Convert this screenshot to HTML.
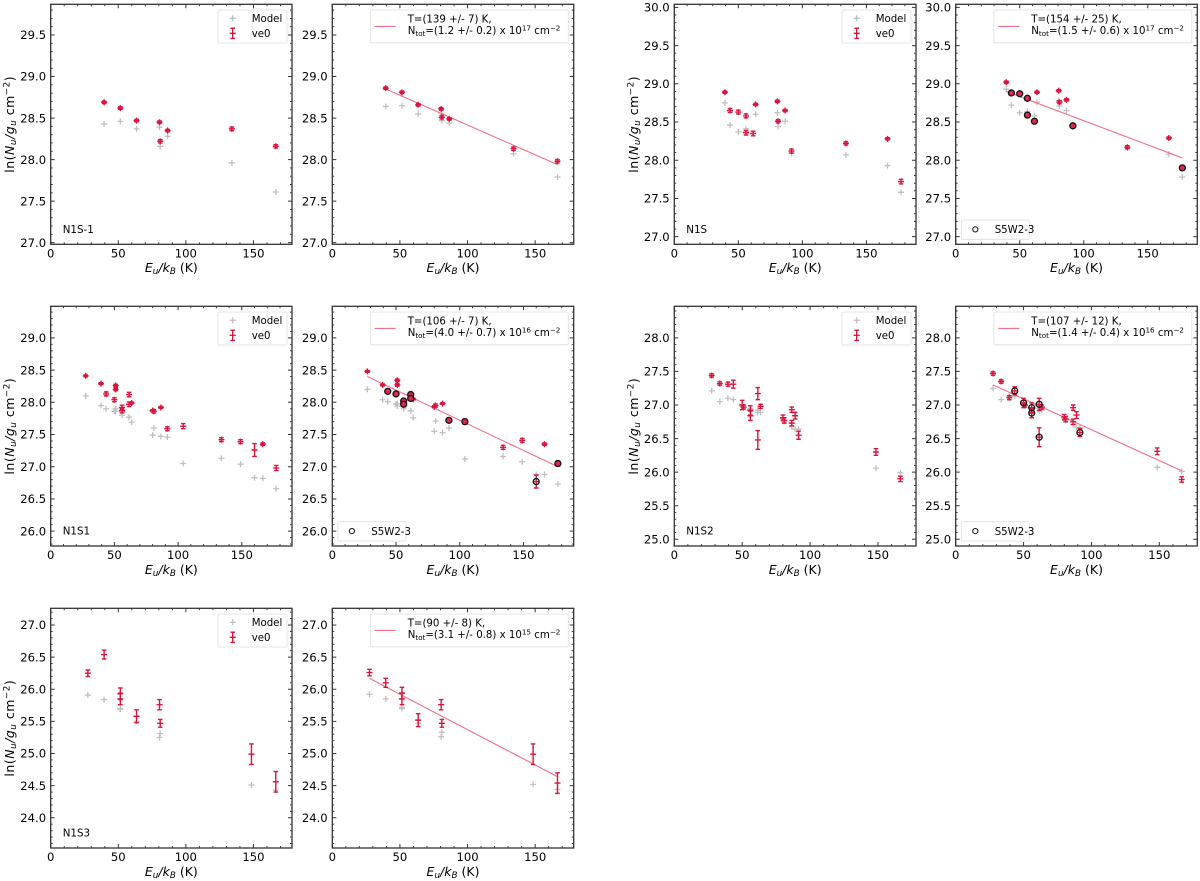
<!DOCTYPE html>
<html lang="en">
<head>
<meta charset="utf-8">
<title>Rotation diagrams</title>
<style>
html,body{margin:0;padding:0;background:#fff;width:1200px;height:881px;overflow:hidden}
svg{display:block;font-family:"DejaVu Sans","Liberation Sans",sans-serif;filter:blur(.3px)}
</style>
</head>
<body>
<svg id="figure" xmlns="http://www.w3.org/2000/svg" width="1200" height="881" viewBox="0 0 1200 881"></svg>
<script>
// ---------- data ----------
const xTicks = [0, 50, 100, 150];
const yTicksN1Sm1 = [27.0, 27.5, 28.0, 28.5, 29.0, 29.5];
const yTicksN1S = [27.0, 27.5, 28.0, 28.5, 29.0, 29.5, 30.0];
const yTicksN1S1 = [26.0, 26.5, 27.0, 27.5, 28.0, 28.5, 29.0];
const yTicksN1S2 = [25.0, 25.5, 26.0, 26.5, 27.0, 27.5, 28.0];
const yTicksN1S3 = [24.0, 24.5, 25.0, 25.5, 26.0, 26.5, 27.0];

const energyN1Sm1 = [39.5, 51.5, 63.5, 80.5, 81, 86.5, 134, 166.5];
const obsN1Sm1 = [28.69, 28.62, 28.47, 28.45, 28.22, 28.35, 28.37, 28.16];
const errN1Sm1 = [0.015, 0.015, 0.015, 0.015, 0.02, 0.015, 0.02, 0.02];
const modelN1Sm1 = [28.43, 28.46, 28.37, 28.39, 28.16, 28.28, 27.96, 27.61];
const obsFitN1Sm1 = [28.86, 28.81, 28.66, 28.61, 28.51, 28.49, 28.13, 27.98];
const modelFitN1Sm1 = [28.64, 28.65, 28.55, 28.56, 28.47, 28.44, 28.07, 27.79];
const lineXN1Sm1 = [39.5, 166.5];
const lineYN1Sm1 = [28.85, 27.94];

const energyN1S = [39.5, 43.5, 50, 56, 56, 61.5, 63.5, 80.5, 81, 86.5, 91.5, 134, 166.5, 177];
const obsN1S = [28.89, 28.65, 28.63, 28.58, 28.36, 28.35, 28.73, 28.77, 28.51, 28.65, 28.12, 28.22, 28.28, 27.72];
const errN1S = [0.015, 0.025, 0.025, 0.025, 0.03, 0.03, 0.015, 0.015, 0.02, 0.015, 0.025, 0.02, 0.015, 0.03];
const modelN1S = [28.75, 28.46, 28.37, 28.41, 28.37, 28.35, 28.60, 28.62, 28.44, 28.51, 28.09, 28.07, 27.93, 27.58];
const obsFitN1S = [29.02, 28.88, 28.87, 28.81, 28.59, 28.51, 28.89, 28.91, 28.76, 28.79, 28.45, 28.17, 28.29, 27.90];
const modelFitN1S = [28.93, 28.72, 28.62, 28.64, 28.60, 28.58, 28.76, 28.78, 28.71, 28.65, 28.44, 28.16, 28.08, 27.78];
const lineXN1S = [39.5, 177];
const lineYN1S = [28.90, 28.03];
const circledN1S = [1, 2, 3, 4, 5, 10, 13];

const energyN1S1 = [27.5, 39.5, 43.5, 50, 51, 51, 56, 56, 61.5, 61.5, 63.5, 80, 81, 86.5, 91.5, 104, 134, 149, 160, 166.5, 177];
const obsN1S1 = [28.41, 28.29, 28.13, 28.04, 28.26, 28.20, 27.92, 27.87, 28.12, 27.97, 27.99, 27.87, 27.86, 27.92, 27.59, 27.63, 27.42, 27.39, 27.26, 27.35, 26.98];
const errN1S1 = [0.015, 0.015, 0.03, 0.03, 0.02, 0.02, 0.035, 0.035, 0.035, 0.035, 0.015, 0.015, 0.025, 0.015, 0.03, 0.04, 0.03, 0.03, 0.10, 0.02, 0.04];
const modelN1S1 = [28.10, 27.95, 27.90, 27.86, 27.90, 27.86, 27.85, 27.80, 27.77, 27.77, 27.69, 27.49, 27.60, 27.47, 27.46, 27.05, 27.13, 27.04, 26.83, 26.82, 26.66];
const obsFitN1S1 = [28.48, 28.27, 28.17, 28.13, 28.34, 28.27, 28.02, 27.97, 28.12, 28.06, 28.05, 27.93, 27.95, 27.98, 27.72, 27.70, 27.30, 27.41, 26.77, 27.35, 27.05];
const modelFitN1S1 = [28.20, 28.04, 28.01, 27.97, 27.98, 27.94, 27.93, 27.90, 27.87, 27.87, 27.76, 27.55, 27.71, 27.53, 27.60, 27.12, 27.16, 27.08, 26.88, 26.88, 26.73];
const lineXN1S1 = [27.5, 177];
const lineYN1S1 = [28.40, 27.00];
const circledN1S1 = [2, 3, 6, 7, 8, 9, 14, 15, 18, 20];

const energyN1S2 = [27.5, 33.5, 39.5, 43.5, 50, 51, 56, 56, 61.5, 61.5, 63.5, 80, 81, 86.5, 86.5, 89, 91.5, 148.5, 166.5];
const obsN1S2 = [27.44, 27.32, 27.31, 27.31, 27.0, 26.97, 26.92, 26.84, 27.17, 26.48, 26.98, 26.81, 26.77, 26.93, 26.73, 26.84, 26.55, 26.30, 25.90];
const errN1S2 = [0.025, 0.025, 0.03, 0.06, 0.07, 0.03, 0.07, 0.07, 0.09, 0.14, 0.03, 0.04, 0.04, 0.04, 0.04, 0.05, 0.06, 0.05, 0.04];
const modelN1S2 = [27.21, 27.05, 27.10, 27.08, 26.98, 26.96, 26.95, 26.93, 26.92, 26.89, 26.89, 26.79, 26.75, 26.68, 26.68, 26.64, 26.64, 26.06, 25.99];
const obsFitN1S2 = [27.47, 27.35, 27.11, 27.21, 27.03, 27.0, 26.96, 26.88, 27.01, 26.52, 26.97, 26.82, 26.79, 26.96, 26.75, 26.85, 26.59, 26.31, 25.89];
const modelFitN1S2 = [27.25, 27.08, 27.13, 27.13, 27.01, 26.99, 26.96, 26.94, 26.95, 26.91, 26.92, 26.80, 26.77, 26.71, 26.71, 26.67, 26.66, 26.07, 26.01];
const lineXN1S2 = [27.5, 166.5];
const lineYN1S2 = [27.30, 26.02];
const circledN1S2 = [3, 4, 6, 7, 8, 9, 16];

const energyN1S3 = [27.5, 39.5, 51.5, 51.5, 63.5, 80.5, 81, 148.5, 166.5];
const obsN1S3 = [26.25, 26.54, 25.93, 25.85, 25.58, 25.76, 25.47, 24.99, 24.56];
const errN1S3 = [0.05, 0.07, 0.09, 0.09, 0.10, 0.08, 0.06, 0.16, 0.16];
const modelN1S3 = [25.91, 25.84, 25.70, 25.69, 25.50, 25.25, 25.31, 24.51, 24.43];
const obsFitN1S3 = [26.26, 26.10, 25.94, 25.85, 25.52, 25.76, 25.47, 24.99, 24.54];
const modelFitN1S3 = [25.92, 25.85, 25.72, 25.70, 25.47, 25.26, 25.33, 24.52, 24.44];
const lineXN1S3 = [27.5, 166.5];
const lineYN1S3 = [26.17, 24.64];

// ---------- drawing ----------
const NS = 'http://www.w3.org/2000/svg';
const CRIMSON = '#dc143c';
const GREY = '#c0c0c0';
const FIT = '#f2708a';
const SPINE = '#333333';
const root = document.getElementById('figure');

function svgEl(tag, attrs, parent) {
  const e = document.createElementNS(NS, tag);
  for (const k in attrs) e.setAttribute(k, attrs[k]);
  parent.appendChild(e);
  return e;
}
function span(parent, txt, attrs) {
  const s = svgEl('tspan', attrs || {}, parent);
  s.textContent = txt;
  return s;
}
function plus(parent, cx, cy, half, color, width) {
  const d = 'M' + (cx - half) + ' ' + cy + 'H' + (cx + half) + 'M' + cx + ' ' + (cy - half) + 'V' + (cy + half);
  return svgEl('path', {d: d, stroke: color, 'stroke-width': width, fill: 'none'}, parent);
}
function errorbar(parent, cx, y0, y1, yc) {
  const cap = 2.3;
  const d = 'M' + cx + ' ' + y0 + 'V' + y1 +
    'M' + (cx - cap) + ' ' + y0 + 'H' + (cx + cap) +
    'M' + (cx - cap) + ' ' + y1 + 'H' + (cx + cap) +
    'M' + (cx - 3) + ' ' + yc + 'H' + (cx + 3) +
    'M' + cx + ' ' + (yc - 3) + 'V' + (yc + 3);
  return svgEl('path', {d: d, stroke: CRIMSON, 'stroke-width': 1.4, fill: 'none'}, parent);
}

function drawPanel(c) {
  const W = c.right - c.left, H = c.bottom - c.top;
  const xs = v => c.left + v / c.xMax * W;
  const ys = v => c.bottom - (v - c.yMin) / (c.yMax - c.yMin) * H;

  const g = svgEl('g', {}, root);
  
  

  const bg = svgEl('rect', {x: c.left, y: c.top, width: W, height: H, fill: '#fff'}, g);
  
  

  // minor ticks
  let minor = '';
  for (let v = 0; v <= c.xMax; v += 10) {
    if (v % 50 === 0) continue;
    const x = xs(v);
    minor += 'M' + x + ' ' + c.bottom + 'v-2M' + x + ' ' + c.top + 'v2';
  }
  for (let i = Math.ceil(c.yMin * 10); i <= Math.floor(c.yMax * 10); i++) {
    if (i % 5 === 0) continue;
    const y = ys(i / 10);
    minor += 'M' + c.left + ' ' + y + 'h2M' + c.right + ' ' + y + 'h-2';
  }
  const minorPath = svgEl('path', {d: minor, stroke: SPINE, 'stroke-width': 0.9, fill: 'none'}, g);
  
  

  // x ticks
  xTicks.forEach(v => {
    const x = xs(v);
    const t = svgEl('path', {d: 'M' + x + ' ' + c.bottom + 'v-4M' + x + ' ' + c.top + 'v4', stroke: SPINE, 'stroke-width': 1, fill: 'none'}, g);
    
    
    const l = svgEl('text', {x: x, y: c.bottom + 13, 'text-anchor': 'middle', 'font-size': 11.6, fill: '#000'}, g);
    
    
    l.textContent = String(v);
  });

  // y ticks
  c.yTicks.forEach(v => {
    const y = ys(v);
    const t = svgEl('path', {d: 'M' + c.left + ' ' + y + 'h4M' + c.right + ' ' + y + 'h-4', stroke: SPINE, 'stroke-width': 1, fill: 'none'}, g);
    
    
    const l = svgEl('text', {x: c.left - 4.6, y: y + 4.2, 'text-anchor': 'end', 'font-size': 11.6, fill: '#000'}, g);
    
    
    l.textContent = v.toFixed(1);
  });

  // model points
  c.energy.forEach((e, i) => {
    const m = plus(g, xs(e), ys(c.model[i]), 3, GREY, 1.3);
    
    
  });

  // fit line
  if (c.lineX) {
    const fit = svgEl('line', {x1: xs(c.lineX[0]), y1: ys(c.lineY[0]), x2: xs(c.lineX[1]), y2: ys(c.lineY[1]), stroke: FIT, 'stroke-width': 1.1}, g);
    
    
  }

  // observed points
  c.energy.forEach((e, i) => {
    const p = errorbar(g, xs(e), ys(c.obs[i] + c.err[i]), ys(c.obs[i] - c.err[i]), ys(c.obs[i]));
    
    
  });

  // circled points: small error bars read as a filled dot inside the ring
  (c.circled || []).forEach(i => {
    const r = svgEl('circle', {cx: xs(c.energy[i]), cy: ys(c.obs[i]), r: 3, fill: c.err[i] < 0.05 ? '#e0284f' : 'none', stroke: '#111', 'stroke-width': 1.3}, g);
    
    
  });

  // frame
  const frame = svgEl('rect', {x: c.left, y: c.top, width: W, height: H, fill: 'none', stroke: SPINE, 'stroke-width': 1.3}, g);
  
  

  // x label
  const xl = svgEl('text', {x: (c.left + c.right) / 2, y: c.bottom + 27.8, 'text-anchor': 'middle', 'font-size': 12.5, fill: '#000'}, g);
  
  
  span(xl, 'E', {'font-style': 'italic'});
  span(xl, 'u', {'font-style': 'italic', 'font-size': 8.8, dy: 2});
  span(xl, '/k', {'font-style': 'italic', dy: -2});
  span(xl, 'B', {'font-style': 'italic', 'font-size': 8.8, dy: 2});
  span(xl, ' (K)', {dy: -2});

  // y label
  if (c.panelLabel) {
    const cy = (c.top + c.bottom) / 2;
    const lx = c.left - 36.5;
    const yl = svgEl('text', {x: lx, y: cy, transform: 'rotate(-90 ' + lx + ' ' + cy + ')', 'text-anchor': 'middle', 'font-size': 12.5, 'letter-spacing': 0.5, fill: '#000'}, g);
    
    
    span(yl, 'ln(');
    span(yl, 'N', {'font-style': 'italic'});
    span(yl, 'u', {'font-style': 'italic', 'font-size': 8.8, dy: 2});
    span(yl, '/g', {'font-style': 'italic', dy: -2});
    span(yl, 'u', {'font-style': 'italic', 'font-size': 8.8, dy: 2});
    span(yl, ' cm', {dy: -2});
    span(yl, '\u22122', {'font-size': 8.8, dy: -4.5});
    span(yl, ')', {dy: 4.5});

    const ann = svgEl('text', {x: c.left + 12, y: c.bottom - 11.3, 'font-size': 10.3, fill: '#000'}, g);
    
    
    ann.textContent = c.panelLabel;

    // legend: model / ve0
    const lg = svgEl('g', {}, g);
    
    
    const lLeft = c.right - 74, lTop = c.top + 5.7;
    const box = svgEl('rect', {x: lLeft, y: lTop, width: 69, height: 33, rx: 1.5, fill: '#fff', 'fill-opacity': 0.8, stroke: '#dedede', 'stroke-width': 0.8}, lg);
    
    
    const mk = plus(lg, lLeft + 14.7, lTop + 8.3, 3, GREY, 1.3);
    
    
    const mt = svgEl('text', {x: lLeft + 33.7, y: lTop + 12.2, 'font-size': 10.2, fill: '#000'}, lg);
    
    
    mt.textContent = 'Model';
    const ve = errorbar(lg, lLeft + 14.7, lTop + 18.2, lTop + 28.4, lTop + 23.3);
    
    
    const vt = svgEl('text', {x: lLeft + 33.7, y: lTop + 27.2, 'font-size': 10.2, fill: '#000'}, lg);
    
    
    vt.textContent = 've0';
  } else {
    // legend: fit result
    const lg = svgEl('g', {}, g);
    
    
    const lLeft = c.right - 203.4, lTop = c.top + 5.7;
    const box = svgEl('rect', {x: lLeft, y: lTop, width: 198, height: 32.8, rx: 1.5, fill: '#fff', 'fill-opacity': 0.8, stroke: '#dedede', 'stroke-width': 0.8}, lg);
    
    
    const ln = svgEl('line', {x1: lLeft + 4.4, x2: lLeft + 25.4, y1: lTop + 16.4, y2: lTop + 16.4, stroke: FIT, 'stroke-width': 1.1}, lg);
    
    
    const t1 = svgEl('text', {x: lLeft + 37.4, y: lTop + 12.7, 'font-size': 10.2, fill: '#000'}, lg);
    
    
    t1.textContent = c.tempLabel;
    const t2 = svgEl('text', {x: lLeft + 37.4, y: lTop + 24.2, 'font-size': 10.2, fill: '#000'}, lg);
    
    
    span(t2, 'N');
    span(t2, 'tot', {'font-size': 7.2, dy: 1.6});
    span(t2, '=' + c.densLabel + ' x 10', {dy: -1.6});
    span(t2, c.densExp, {'font-size': 7.2, dy: -3.8});
    span(t2, ' cm', {dy: 3.8});
    span(t2, '\u22122', {'font-size': 7.2, dy: -3.8});

    if (c.circled) {
      const lb = svgEl('g', {}, g);
      
      
      const bTop = c.bottom - 24.3, bLeft = c.left + 5.6;
      const b2 = svgEl('rect', {x: bLeft, y: bTop, width: 68, height: 19.3, rx: 1.5, fill: '#fff', 'fill-opacity': 0.8, stroke: '#dedede', 'stroke-width': 0.8}, lb);
      
      
      const mk = svgEl('circle', {cx: bLeft + 14, cy: bTop + 9.4, r: 2.6, fill: 'none', stroke: '#111', 'stroke-width': 1}, lb);
      
      
      const tx = svgEl('text', {x: bLeft + 33.4, y: bTop + 13.2, 'font-size': 10.2, fill: '#000'}, lb);
      
      
      tx.textContent = 'S5W2-3';
    }
  }
}

drawPanel({name: 'panel-n1s-1-data', left: 50.7, right: 292, top: 4.3, bottom: 244.3, xMax: 178.5, yMin: 26.98, yMax: 29.87, yTicks: yTicksN1Sm1,
  energy: energyN1Sm1, obs: obsN1Sm1, err: errN1Sm1, model: modelN1Sm1, panelLabel: 'N1S-1'});
drawPanel({name: 'panel-n1s-1-fit', left: 332.3, right: 573.7, top: 4.3, bottom: 244.3, xMax: 178.5, yMin: 26.98, yMax: 29.87, yTicks: yTicksN1Sm1,
  energy: energyN1Sm1, obs: obsFitN1Sm1, err: errN1Sm1, model: modelFitN1Sm1, lineX: lineXN1Sm1, lineY: lineYN1Sm1,
  tempLabel: 'T=(139 +/- 7) K,', densLabel: '(1.2 +/- 0.2)', densExp: '17'});

drawPanel({name: 'panel-n1s-data', left: 674.3, right: 916, top: 4.3, bottom: 244.3, xMax: 188.7, yMin: 26.9, yMax: 30.04, yTicks: yTicksN1S,
  energy: energyN1S, obs: obsN1S, err: errN1S, model: modelN1S, panelLabel: 'N1S'});
drawPanel({name: 'panel-n1s-fit', left: 955.7, right: 1197.3, top: 4.3, bottom: 244.3, xMax: 188.7, yMin: 26.9, yMax: 30.04, yTicks: yTicksN1S,
  energy: energyN1S, obs: obsFitN1S, err: errN1S, model: modelFitN1S, lineX: lineXN1S, lineY: lineYN1S, circled: circledN1S,
  tempLabel: 'T=(154 +/- 25) K,', densLabel: '(1.5 +/- 0.6)', densExp: '17'});

drawPanel({name: 'panel-n1s1-data', left: 50.7, right: 292, top: 306.3, bottom: 546, xMax: 189.4, yMin: 25.77, yMax: 29.49, yTicks: yTicksN1S1,
  energy: energyN1S1, obs: obsN1S1, err: errN1S1, model: modelN1S1, panelLabel: 'N1S1'});
drawPanel({name: 'panel-n1s1-fit', left: 332.3, right: 573.7, top: 306.3, bottom: 546, xMax: 189.4, yMin: 25.77, yMax: 29.49, yTicks: yTicksN1S1,
  energy: energyN1S1, obs: obsFitN1S1, err: errN1S1, model: modelFitN1S1, lineX: lineXN1S1, lineY: lineYN1S1, circled: circledN1S1,
  tempLabel: 'T=(106 +/- 7) K,', densLabel: '(4.0 +/- 0.7)', densExp: '16'});

drawPanel({name: 'panel-n1s2-data', left: 674.3, right: 916, top: 306.3, bottom: 546, xMax: 178, yMin: 24.9, yMax: 28.47, yTicks: yTicksN1S2,
  energy: energyN1S2, obs: obsN1S2, err: errN1S2, model: modelN1S2, panelLabel: 'N1S2'});
drawPanel({name: 'panel-n1s2-fit', left: 955.7, right: 1197.3, top: 306.3, bottom: 546, xMax: 178, yMin: 24.9, yMax: 28.47, yTicks: yTicksN1S2,
  energy: energyN1S2, obs: obsFitN1S2, err: errN1S2, model: modelFitN1S2, lineX: lineXN1S2, lineY: lineYN1S2, circled: circledN1S2,
  tempLabel: 'T=(107 +/- 12) K,', densLabel: '(1.4 +/- 0.4)', densExp: '16'});

drawPanel({name: 'panel-n1s3-data', left: 50.7, right: 292, top: 608.3, bottom: 848, xMax: 178.5, yMin: 23.53, yMax: 27.26, yTicks: yTicksN1S3,
  energy: energyN1S3, obs: obsN1S3, err: errN1S3, model: modelN1S3, panelLabel: 'N1S3'});
drawPanel({name: 'panel-n1s3-fit', left: 332.3, right: 573.7, top: 608.3, bottom: 848, xMax: 178.5, yMin: 23.53, yMax: 27.26, yTicks: yTicksN1S3,
  energy: energyN1S3, obs: obsFitN1S3, err: errN1S3, model: modelFitN1S3, lineX: lineXN1S3, lineY: lineYN1S3,
  tempLabel: 'T=(90 +/- 8) K,', densLabel: '(3.1 +/- 0.8)', densExp: '15'});
</script>
</body>
</html>
